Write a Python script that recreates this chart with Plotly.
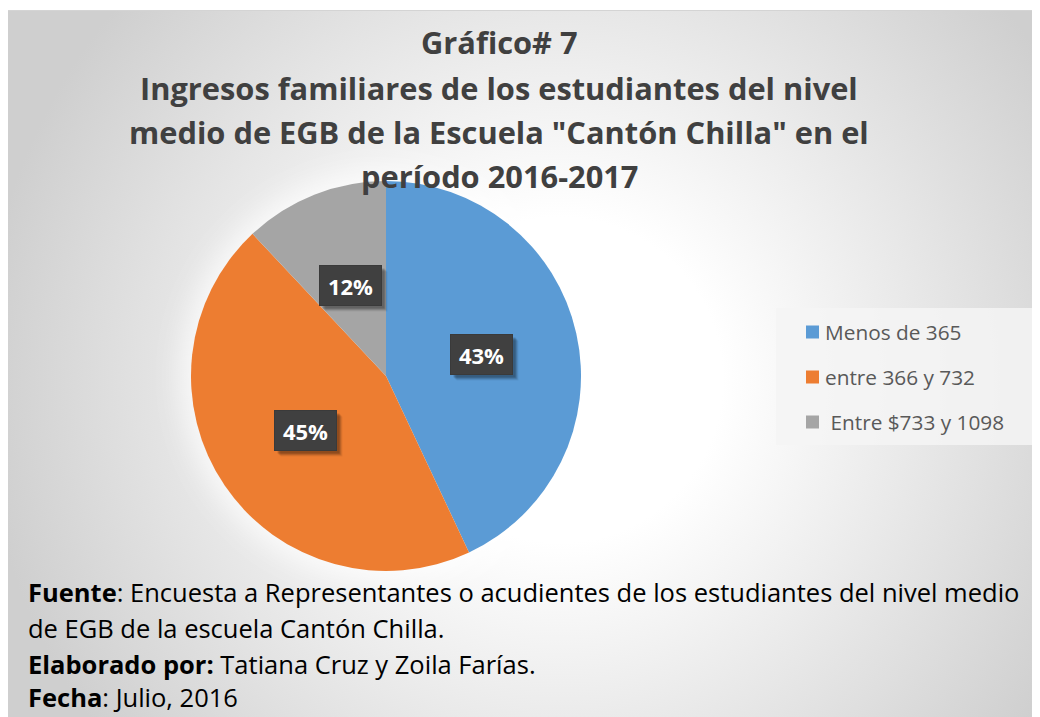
import math
import base64
import plotly.graph_objects as go

# ---------------- data ----------------
labels = ["Menos de 365", "entre 366 y 732", "Entre $733 y 1098"]
values = [43, 45, 12]
colors = ["#5B9BD5", "#ED7D31", "#A5A5A5"]
pct_labels = ["43%", "45%", "12%"]

title_lines = [
    "Gráfico# 7",
    "Ingresos familiares de los estudiantes del nivel",
    "medio de EGB de la Escuela \"Cantón Chilla\" en el",
    "período 2016-2017",
]
footer_lines = [
    "<b>Fuente</b>: Encuesta a Representantes o acudientes de los estudiantes del nivel medio",
    "de EGB de la escuela Cantón Chilla.",
    "<b>Elaborado por:</b> Tatiana Cruz y Zoila Farías.",
    "<b>Fecha</b>: Julio, 2016",
]

# ---------------- layout geometry ----------------
# the page body has an 8px margin, so page-pixel positions are converted
# by subtracting that offset
OFF = 8
FW, FH = 1032, 709
CX, CY, R = 386, 376, 195          # pie centre / radius in page pixels
FONT = "Open Sans"


def px(x):
    return (x - OFF) / FW


def py(y):
    return 1 - (y - OFF) / FH


# background: radial gradient + soft white glow around the pie (inline svg)
gcx, gcy = 560 - OFF, 380 - OFF
svg = (
    f'<svg xmlns="http://www.w3.org/2000/svg" width="{FW}" height="{FH}">'
    '<defs>'
    f'<radialGradient id="g" gradientUnits="userSpaceOnUse" cx="{gcx}" cy="{gcy}" r="580">'
    '<stop offset="0" stop-color="#ffffff"/>'
    '<stop offset="0.28" stop-color="#ffffff"/>'
    '<stop offset="1" stop-color="#cfcfcf"/>'
    '</radialGradient>'
    '<filter id="b" x="-50%" y="-50%" width="200%" height="200%">'
    '<feGaussianBlur stdDeviation="14"/></filter>'
    '</defs>'
    f'<rect x="0" y="2" width="{FW}" height="{FH-2}" fill="url(#g)"/>'
    f'<circle cx="{CX-OFF}" cy="{CY-OFF}" r="{R+10}" fill="#ffffff" fill-opacity="0.75" filter="url(#b)"/>'
    f'<line x1="0" y1="2.5" x2="{FW}" y2="2.5" stroke="#d4d4d4" stroke-width="1"/>'
    '</svg>'
)
bg_src = "data:image/svg+xml;base64," + base64.b64encode(svg.encode()).decode()

fig = go.Figure(
    go.Pie(
        labels=labels,
        values=values,
        sort=False,
        direction="clockwise",
        rotation=0,
        marker=dict(colors=colors, line=dict(width=0)),
        textinfo="none",
        hoverinfo="label+percent",
        showlegend=False,
        domain=dict(x=[px(CX - R), px(CX + R)], y=[py(CY + R), py(CY - R)]),
    )
)

annotations = []
shapes = []

# title
title_y = [42, 88, 132, 176]
for line, y in zip(title_lines, title_y):
    annotations.append(dict(
        x=px(499), y=py(y), xref="paper", yref="paper", xanchor="center", yanchor="middle",
        text=f"<b>{line}</b>", showarrow=False,
        font=dict(family=FONT, size=30.8, color="#404040"),
    ))

# data labels placed at the middle angle of each slice
total = sum(values)
cum = 0
for v, t in zip(values, pct_labels):
    mid = (cum + v / 2) / total * 2 * math.pi
    cum += v
    lx = CX + 0.5 * R * math.sin(mid)
    ly = CY - 0.5 * R * math.cos(mid)
    for off, alpha in [(6, 0.06), (5, 0.10), (4, 0.14), (3, 0.16)]:
        annotations.append(dict(
            x=px(lx + off), y=py(ly + off), xref="paper", yref="paper",
            xanchor="center", yanchor="middle", text="", showarrow=False,
            width=55, height=33, borderpad=3, borderwidth=1,
            bordercolor="rgba(0,0,0,0)", bgcolor=f"rgba(0,0,0,{alpha})",
        ))
    annotations.append(dict(
        x=px(lx), y=py(ly), xref="paper", yref="paper",
        xanchor="center", yanchor="middle", text=f"<b>{t}</b>", showarrow=False,
        width=55, height=33, borderpad=3, borderwidth=1,
        bordercolor="#3a3a3a", bgcolor="#404040",
        font=dict(family=FONT, size=22, color="#ffffff"),
    ))

# legend (drawn manually to match the reference spacing)
shapes.append(dict(
    type="rect", xref="paper", yref="paper",
    x0=px(776), x1=px(1033), y0=py(445), y1=py(308),
    fillcolor="rgba(244,244,244,0.85)", line=dict(width=0), layer="below",
))
leg_y = [332, 377, 422]
for lab, col, y in zip(labels, colors, leg_y):
    shapes.append(dict(
        type="rect", xref="paper", yref="paper",
        x0=px(806), x1=px(819), y0=py(y + 6.5), y1=py(y - 6.5),
        fillcolor=col, line=dict(width=0),
    ))
    annotations.append(dict(
        x=px(823), y=py(y), xref="paper", yref="paper", xanchor="left", yanchor="middle",
        text=lab if not lab.startswith("Entre") else "\u00a0" + lab, showarrow=False,
        font=dict(family=FONT, size=20.8, color="#595959"),
    ))

# footer
footer_y = [592, 628, 664, 697]
for line, y in zip(footer_lines, footer_y):
    annotations.append(dict(
        x=px(26), y=py(y), xref="paper", yref="paper", xanchor="left", yanchor="middle",
        text=line, showarrow=False,
        font=dict(family=FONT, size=25.5, color="#000000"),
    ))

fig.update_layout(
    width=FW, height=FH,
    margin=dict(l=0, r=0, t=0, b=0),
    paper_bgcolor="#ffffff",
    plot_bgcolor="rgba(0,0,0,0)",
    images=[dict(
        source=bg_src, xref="paper", yref="paper", x=0, y=1, sizex=1, sizey=1,
        xanchor="left", yanchor="top", sizing="stretch", layer="below",
    )],
    annotations=annotations,
    shapes=shapes,
    showlegend=False,
)

fig.write_html("out.html")
